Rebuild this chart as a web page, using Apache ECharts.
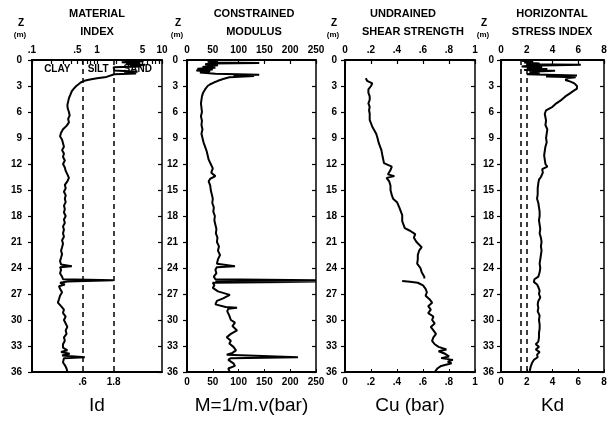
<!DOCTYPE html>
<html>
<head>
<meta charset="utf-8">
<script src="https://cdn.jsdelivr.net/npm/echarts@6/dist/echarts.min.js"></script>
<style>
html,body{margin:0;padding:0;background:#fff}
#c{width:616px;height:421px}
</style>
</head>
<body>
<div id="c"></div>
<script>
// ---- Material index Id (log scale) ----
const idDepth = [0.0,0.15,0.25,0.35,0.45,0.55,0.65,0.75,0.85,1.0,1.2,1.35,1.45,1.55,1.65,1.8,1.95,2.1,2.25,2.4,2.6,2.8,3.0,3.3,3.6,4.0,4.4,4.8,5.2,5.6,6.0,6.4,6.8,7.2,7.6,8.0,8.4,8.8,9.2,9.6,10.0,10.4,10.8,11.2,11.6,12.0,12.4,12.8,13.2,13.6,14.0,14.4,14.8,15.2,15.6,16.0,16.4,16.8,17.2,17.6,18.0,18.4,18.8,19.2,19.6,20.0,20.4,20.8,21.2,21.6,22.0,22.4,22.8,23.2,23.6,23.8,23.9,24.2,24.6,25.0,25.3,25.4,25.45,25.55,25.7,25.9,26.1,26.4,26.8,27.2,27.6,28.0,28.4,28.8,29.2,29.6,30.0,30.4,30.8,31.2,31.6,32.0,32.4,32.8,33.2,33.5,33.7,33.9,34.1,34.3,34.4,34.6,34.9,35.2,35.6,36.0];
const idValue = [3.0,5.2,2.4,4.6,2.8,5.5,3.2,4.8,1.8,1.8,1.85,4.2,2.6,4.0,1.85,1.75,1.4,1.0,0.78,0.64,0.56,0.52,0.48,0.44,0.41,0.39,0.37,0.36,0.35,0.355,0.37,0.38,0.36,0.37,0.34,0.3,0.28,0.27,0.29,0.3,0.31,0.29,0.31,0.3,0.32,0.3,0.32,0.33,0.35,0.37,0.35,0.32,0.33,0.31,0.33,0.32,0.33,0.31,0.32,0.31,0.33,0.31,0.32,0.3,0.31,0.3,0.31,0.29,0.3,0.29,0.28,0.29,0.28,0.27,0.28,0.41,0.27,0.28,0.27,0.29,0.3,1.8,1.8,0.35,0.27,0.32,0.26,0.27,0.29,0.27,0.26,0.25,0.28,0.31,0.3,0.33,0.31,0.33,0.35,0.33,0.34,0.31,0.32,0.3,0.3,0.35,0.28,0.38,0.29,0.65,0.31,0.33,0.3,0.32,0.34,0.35];
const idTopLabels = [0.1, 0.5, 1, 5, 10];
const idBounds = [0.6, 1.8];            // clay / silt / sand limits
const soilNames = ['CLAY', 'SILT', 'SAND'];
const soilNameId = [0.245, 1.04, 4.24];  // geometric middle of each band
const soilNameDepth = 1.05;

// ---- Constrained modulus M (bar) ----
const mDepth = [0.0,0.1,0.2,0.3,0.35,0.4,0.5,0.6,0.7,0.8,0.9,1.0,1.1,1.2,1.3,1.45,1.6,1.7,1.75,1.85,2.0,2.2,2.4,2.6,2.8,3.0,3.4,3.8,4.2,4.6,5.0,5.5,6.0,6.5,7.0,7.5,8.0,8.5,9.0,9.5,10.0,10.5,11.0,11.5,12.0,12.5,13.0,13.4,13.7,14.0,14.5,15.0,15.5,16.0,16.5,17.0,17.5,18.0,18.5,19.0,19.5,20.0,20.5,21.0,21.5,22.0,22.5,23.0,23.5,23.8,23.9,24.2,24.6,25.0,25.3,25.4,25.45,25.5,25.55,25.6,25.7,26.0,26.3,26.7,27.1,27.5,27.8,28.2,28.5,28.6,28.7,29.0,29.5,30.0,30.3,30.7,31.2,31.6,32.0,32.4,32.7,33.1,33.5,33.8,34.0,34.3,34.4,34.6,35.0,35.3,35.6,36.0];
const mValue = [45,60,40,55,140,50,35,60,45,30,55,20,50,18,45,25,55,140,90,130,82,70,60,52,45,40,35,31,29,28,27,28,29,27,29,28,30,28,30,32,35,38,40,42,46,50,47,55,45,42,45,46,48,50,49,52,51,54,53,55,57,56,59,58,62,60,64,60,58,93,58,55,57,52,55,250,60,250,55,250,50,53,50,60,83,70,58,55,75,97,80,78,82,85,93,88,97,85,77,85,82,90,95,88,77,215,85,80,90,93,80,83];

// ---- Undrained shear strength Cu (bar) ----
const cuDepth = [2.1,2.4,2.7,3.0,3.4,3.8,4.2,4.6,5.0,5.4,5.8,6.2,6.9,7.7,8.5,9.0,9.6,10.4,11.2,11.9,12.3,12.7,13.2,13.4,13.6,14.0,14.5,15.0,15.6,16.0,16.4,17.1,17.9,18.6,19.4,19.7,20.1,20.5,21.0,21.6,22.0,22.5,23.0,23.5,24.0,24.5,25.0,25.2,25.35,25.5,25.6,25.7,26.0,26.4,26.8,27.2,27.6,28.0,28.4,28.8,29.2,29.6,30.0,30.4,30.8,31.2,31.6,32.0,32.4,32.8,33.1,33.4,33.6,33.9,34.2,34.4,34.6,34.8,35.0,35.3,35.6,36.0];
const cuValue = [0.16,0.17,0.21,0.2,0.18,0.18,0.19,0.19,0.18,0.19,0.185,0.19,0.19,0.21,0.24,0.25,0.26,0.28,0.29,0.3,0.36,0.35,0.33,0.38,0.32,0.34,0.35,0.35,0.36,0.37,0.4,0.42,0.44,0.44,0.46,0.5,0.54,0.53,0.55,0.59,0.57,0.56,0.56,0.555,0.58,0.59,0.61,0.61,null,0.44,0.5,0.56,0.6,0.62,0.63,0.62,0.65,0.67,0.64,0.66,0.64,0.68,0.67,0.69,0.66,0.68,0.7,0.68,0.67,0.69,0.72,0.78,0.72,0.77,0.8,0.74,0.83,0.79,0.82,0.74,0.71,0.69];

// ---- Horizontal stress index Kd ----
const kdDepth = [0.0,0.1,0.2,0.3,0.4,0.5,0.55,0.65,0.75,0.85,0.95,1.05,1.15,1.25,1.35,1.5,1.65,1.8,1.9,2.0,2.1,2.3,2.5,2.7,3.0,3.3,3.6,3.9,4.2,4.6,5.0,5.4,5.8,6.2,6.6,7.0,7.5,8.0,8.5,9.0,9.5,10.0,10.5,11.0,11.5,12.0,12.3,12.6,13.0,13.5,13.8,14.2,14.8,15.5,16.0,16.5,17.0,17.5,18.0,18.5,19.0,19.5,20.0,20.5,21.0,21.5,22.0,22.5,23.0,23.5,24.0,24.5,25.0,25.3,25.6,25.9,26.2,26.6,27.0,27.4,27.8,28.2,28.6,29.0,29.5,30.0,30.5,31.0,31.5,32.0,32.5,32.8,33.1,33.4,33.7,34.0,34.3,34.6,35.0,35.4,35.8,36.0];
const kdValue = [2.0,1.6,2.5,1.8,3.0,2.0,6.2,2.2,1.6,3.2,2.0,3.6,1.8,4.2,2.2,3.0,2.0,5.9,3.5,5.8,5.2,5.0,5.4,5.7,5.9,5.9,5.6,5.3,5.0,4.7,4.3,4.0,3.5,3.4,3.45,3.5,3.45,3.6,3.55,3.5,3.55,3.45,3.4,3.35,3.4,3.45,3.6,3.2,3.25,3.1,2.95,2.9,2.85,2.85,2.8,2.9,2.95,3.0,3.0,2.95,3.0,3.05,3.0,3.1,3.15,3.1,3.15,3.1,3.05,3.0,3.05,3.0,2.9,2.6,2.55,2.8,2.9,3.0,2.95,3.05,2.9,2.85,2.9,2.85,3.0,2.95,3.0,3.0,2.95,2.95,2.9,2.7,2.95,2.7,3.0,2.8,2.85,2.55,2.4,2.3,2.25,2.2];
const kdBounds = [1.5, 2.0];

// ---- depth axis ----
const depthMax = 36;
const depthStep = 3;

// ---- panel text ----
const panelTitles = [['MATERIAL', 'INDEX'], ['CONSTRAINED', 'MODULUS'], ['UNDRAINED', 'SHEAR STRENGTH'], ['HORIZONTAL', 'STRESS INDEX']];
const panelUnits = ['Id', 'M=1/m.v(bar)', 'Cu (bar)', 'Kd'];

const FONT = '"Liberation Sans", Arial, sans-serif';
const zip = (d, v) => d.map((z, i) => [v[i], z]);
const fmtNum = v => {
  const s = String(+(+v).toPrecision(3));
  return s.replace(/^0\./, '.');
};
const idTickValues = [];
for (let k = 1; k <= 9; k++) idTickValues.push(+(k / 10).toFixed(1));
for (let k = 1; k <= 10; k++) idTickValues.push(k);

// panel frames (pixels)
const frames = [
  { left: 32, width: 130, labelMargin: 10, zx: 21, titleX: [97, 97] },
  { left: 187, width: 129, labelMargin: 9, zx: 178, titleX: [254, 254] },
  { left: 345, width: 130, labelMargin: 8, zx: 334, titleX: [403, 413] },
  { left: 501, width: 103, labelMargin: 7, zx: 484, titleX: [552, 552] }
];
const gridTop = 60, gridHeight = 312;

const scales = [
  { type: 'log', min: 0.1, max: 10, logBase: 10 },
  { type: 'value', min: 0, max: 250, interval: 50 },
  { type: 'value', min: 0, max: 1, interval: 0.2 },
  { type: 'value', min: 0, max: 8, interval: 2 }
];

const labelStyle = { color: '#000', fontFamily: FONT, fontWeight: 'bold', fontSize: 10 };

const grid = frames.map(f => ({ left: f.left, width: f.width, top: gridTop, height: gridHeight }));

const xAxis = [];
const yAxis = [];
frames.forEach((f, i) => {
  const sc = scales[i];
  const top = Object.assign({}, sc, {
    gridIndex: i, position: 'top',
    axisLine: { show: true, onZero: false, lineStyle: { color: '#000', width: 2 } },
    axisTick: { show: true, inside: true, length: 4, lineStyle: { color: '#000', width: 1.2 } },
    axisLabel: Object.assign({ show: true, margin: 5, formatter: fmtNum, showMinLabel: true, showMaxLabel: true }, labelStyle),
    splitLine: { show: false }, minorTick: { show: false }
  });
  const bottom = Object.assign({}, sc, {
    gridIndex: i, position: 'bottom',
    name: panelUnits[i], nameLocation: 'middle', nameGap: 24,
    nameTextStyle: { color: '#000', fontFamily: FONT, fontSize: 19 },
    axisLine: { show: true, onZero: false, lineStyle: { color: '#000', width: 2 } },
    axisTick: { show: true, inside: true, length: 3, lineStyle: { color: '#000', width: 1 } },
    axisLabel: Object.assign({ show: true, margin: 5, formatter: fmtNum, showMinLabel: true, showMaxLabel: true }, labelStyle),
    splitLine: { show: false }
  });
  if (i === 0) {
    top.axisLabel.customValues = idTopLabels;
    top.axisTick.customValues = idTickValues;
    bottom.axisLabel.customValues = idBounds;
    bottom.axisTick.show = false;
  }
  xAxis.push(top, bottom);

  yAxis.push({
    gridIndex: i, type: 'value', position: 'left', inverse: true,
    min: 0, max: depthMax, interval: depthStep,
    axisLine: { show: true, onZero: false, lineStyle: { color: '#000', width: 2 } },
    axisTick: { show: true, inside: false, length: 4, lineStyle: { color: '#000', width: 1.2 } },
    axisLabel: Object.assign({ margin: f.labelMargin, showMinLabel: true, showMaxLabel: true }, labelStyle),
    splitLine: { show: false }
  }, {
    gridIndex: i, type: 'value', position: 'right', inverse: true,
    min: 0, max: depthMax, interval: depthStep,
    axisLine: { show: true, onZero: false, lineStyle: { color: '#000', width: 1.5 } },
    axisTick: { show: true, inside: true, length: 4, lineStyle: { color: '#000', width: 1.2 } },
    axisLabel: { show: false },
    splitLine: { show: false }
  });
});

const profile = (i, data, extra) => Object.assign({
  type: 'line', xAxisIndex: 2 * i, yAxisIndex: 2 * i, data,
  symbol: 'none', showSymbol: false, smooth: false, connectNulls: false,
  lineStyle: { color: '#000', width: 2 }, z: 3, silent: true
}, extra || {});

const dashed = bounds => ({
  symbol: 'none', silent: true, label: { show: false },
  lineStyle: { color: '#000', type: [5, 4], width: 1.5 },
  data: bounds.map(v => ({ xAxis: v }))
});

const series = [
  {
    type: 'scatter', xAxisIndex: 0, yAxisIndex: 0, symbolSize: 1, z: 2, silent: true,
    itemStyle: { color: 'rgba(0,0,0,0)', opacity: 1 },
    data: soilNames.map((n, k) => [soilNameId[k], soilNameDepth, n]),
    label: Object.assign({
      show: true, position: 'inside', formatter: p => p.data[2],
      textBorderWidth: 0, opacity: 1
    }, labelStyle)
  },
  profile(0, zip(idDepth, idValue), { markLine: dashed(idBounds) }),
  profile(1, zip(mDepth, mValue)),
  profile(2, zip(cuDepth, cuValue)),
  profile(3, zip(kdDepth, kdValue), { markLine: dashed(kdBounds) })
];

const graphic = [];
frames.forEach((f, i) => {
  panelTitles[i].forEach((t, k) => {
    graphic.push({
      type: 'text', x: f.titleX[k], y: 14 + 18 * k,
      style: { text: t, fill: '#000', font: 'bold 11px ' + FONT, align: 'center', verticalAlign: 'middle' }
    });
  });
  graphic.push({
    type: 'text', x: f.zx, y: 23,
    style: { text: 'Z', fill: '#000', font: 'bold 10px ' + FONT, align: 'center', verticalAlign: 'middle' }
  }, {
    type: 'text', x: f.zx - 1, y: 35,
    style: { text: '(m)', fill: '#000', font: 'bold 8px ' + FONT, align: 'center', verticalAlign: 'middle' }
  });
});

const chart = echarts.init(document.getElementById('c'), null, { renderer: 'canvas' });
chart.setOption({
  animation: false,
  backgroundColor: '#fff',
  grid, xAxis, yAxis, series, graphic
});
</script>
</body>
</html>
